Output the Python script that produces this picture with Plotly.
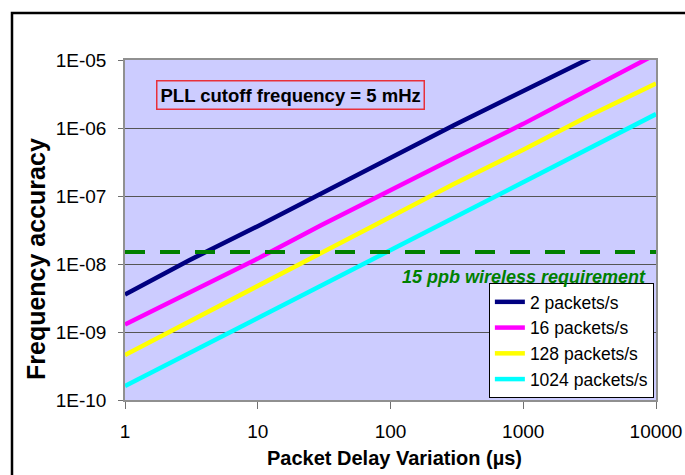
import plotly.graph_objects as go

# ---- data ----
pdv_us = [1, 3, 10, 30, 100, 300, 1000, 3000, 10000]
acc_2 = [3.55e-9, 1.12e-8, 3.6e-8, 1.1e-7, 3.6e-7, 1.1e-6, 3.5e-6, 1.0e-5, 3.2e-5]
acc_16 = [1.29e-9, 3.7e-9, 1.2e-8, 3.7e-8, 1.24e-7, 3.6e-7, 1.15e-6, 3.6e-6, 1.22e-5]
acc_128 = [4.6e-10, 1.4e-9, 4.6e-9, 1.45e-8, 4.9e-8, 1.5e-7, 4.8e-7, 1.45e-6, 4.5e-6]
acc_1024 = [1.6e-10, 4.8e-10, 1.6e-9, 4.9e-9, 1.6e-8, 5.0e-8, 1.6e-7, 5.0e-7, 1.6e-6]
series_names = ["2 packets/s", "16 packets/s", "128 packets/s", "1024 packets/s"]
series_colors = ["#000080", "#FF00FF", "#FFFF00", "#00FFFF"]
requirement_x = [1, 10000]
requirement_y = [1.5e-8, 1.5e-8]
x_tickvals = [1, 10, 100, 1000, 10000]
x_ticktext = ["1", "10", "100", "1000", "10000"]
y_tickvals = [1e-10, 1e-9, 1e-8, 1e-7, 1e-6, 1e-5]
y_ticktext = ["1E-10", "1E-09", "1E-08", "1E-07", "1E-06", "1E-05"]

FONT = "Liberation Sans, Arial, sans-serif"

fig = go.Figure()
for name, ys, col in zip(series_names, [acc_2, acc_16, acc_128, acc_1024], series_colors):
    fig.add_trace(go.Scatter(x=pdv_us, y=ys, mode="lines", name=name,
                             line=dict(color=col, width=4.5)))

fig.add_trace(go.Scatter(x=requirement_x, y=requirement_y, mode="lines",
                         showlegend=False, hoverinfo="skip",
                         line=dict(color="#008000", width=4, dash="20px,15px")))

fig.update_layout(
    width=685, height=475,
    margin=dict(l=125, r=29, t=60, b=75, autoexpand=False),
    paper_bgcolor="white",
    plot_bgcolor="#CCCCFF",
    font=dict(family=FONT, size=19, color="black"),
    legend=dict(x=0.996, y=0.006, xanchor="right", yanchor="bottom",
                bgcolor="white", bordercolor="black", borderwidth=1,
                font=dict(size=17.5), tracegroupgap=0, itemwidth=30),
    annotations=[
        dict(text="<b>PLL cutoff frequency = 5 mHz</b>", xref="paper", yref="paper",
             x=0.3126, y=0.897, xanchor="center", yanchor="middle", showarrow=False,
             font=dict(size=18.5, color="black"), bordercolor="#E8303A", borderwidth=1.5,
             borderpad=3),
        dict(text="<b><i>15 ppb wireless requirement</i></b>", xref="paper", yref="paper",
             x=0.985, y=0.362, xanchor="right", yanchor="middle", showarrow=False,
             font=dict(size=18, color="#008000")),
        dict(text="<b>Packet Delay Variation (µs)</b>", xref="paper", yref="paper",
             x=0.5066, y=-0.1706, xanchor="center", yanchor="middle", showarrow=False,
             font=dict(size=20, color="black")),
        dict(text="<b>Frequency accuracy</b>", xref="paper", yref="paper",
             x=-0.1676, y=0.4147, xanchor="center", yanchor="middle", showarrow=False,
             textangle=-90, font=dict(size=25, color="black")),
    ],
    shapes=[
        dict(type="rect", xref="paper", yref="paper", x0=-0.2128, x1=1.2,
             y0=-0.4, y1=1.138, line=dict(color="black", width=2.5),
             fillcolor="rgba(0,0,0,0)", layer="above"),
    ],
)

fig.update_xaxes(type="log", range=[0, 4], tickvals=x_tickvals, ticktext=x_ticktext,
                 showgrid=False, zeroline=False, showline=True, linecolor="#909090",
                 linewidth=1.5, mirror=True, ticks="outside", ticklen=7,
                 tickcolor="#707070", tickwidth=1, ticklabelstandoff=6,
                 tickfont=dict(size=19), automargin=False)
fig.update_yaxes(type="log", range=[-10, -5], tickvals=y_tickvals, ticktext=y_ticktext,
                 showgrid=True, gridcolor="#555555", gridwidth=1, zeroline=False,
                 showline=True, linecolor="#909090", linewidth=1.5, mirror=True,
                 ticks="outside", ticklen=5, tickcolor="#707070",
                 ticklabelstandoff=8, tickfont=dict(size=19), automargin=False)

fig.write_html("out.html")
